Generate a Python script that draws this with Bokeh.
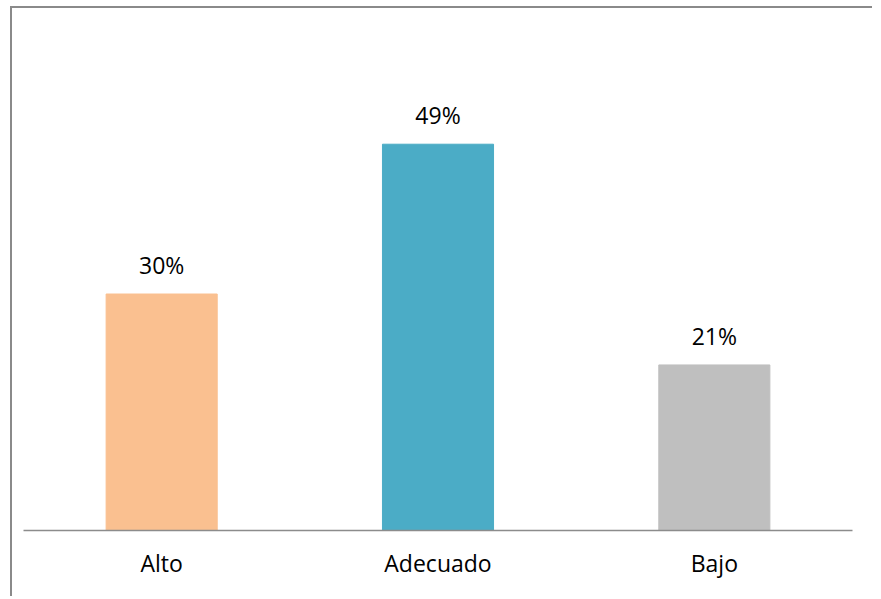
from bokeh.plotting import figure
from bokeh.models import ColumnDataSource, FactorRange, Range1d, LabelSet
from bokeh.embed import file_html
from bokeh.resources import INLINE
from bokeh.core.properties import value

categories = ["Alto", "Adecuado", "Bajo"]
values = [30, 49, 21]
labels = ["30%", "49%", "21%"]
colors = ["#FAC090", "#4BACC6", "#BFBFBF"]

src = ColumnDataSource(dict(cat=categories, val=values, lab=labels, col=colors))

p = figure(
    x_range=FactorRange(*categories, range_padding=0),
    y_range=Range1d(0, 60),
    width=862, height=590,
    output_backend="svg", toolbar_location=None,
    min_border_left=11, min_border_right=22, min_border_top=49, min_border_bottom=68,
)
p.margin = (6, 0, 0, 10)
p.styles = {"border-left": "2px solid #8a8a8a", "border-top": "2px solid #8a8a8a"}

p.vbar(x="cat", top="val", width=0.402, color="col", source=src)

lbl = LabelSet(x="cat", y="val", text="lab", source=src, y_offset=20,
               text_align="center", text_baseline="alphabetic",
               text_font=value("Open Sans"), text_font_size="23px", text_color="#000000")
p.add_layout(lbl)

p.yaxis.visible = False
p.xgrid.visible = False
p.ygrid.visible = False
p.outline_line_color = None
xa = p.xaxis[0]
xa.axis_line_color = "#8c8c8c"
xa.axis_line_width = 1.5
xa.major_tick_line_color = None
xa.minor_tick_line_color = None
xa.major_label_text_font = "Open Sans"
xa.major_label_text_font_size = "23px"
xa.major_label_text_color = "#000000"
xa.major_label_standoff = 10

open("out.html", "w").write(file_html(p, INLINE))
